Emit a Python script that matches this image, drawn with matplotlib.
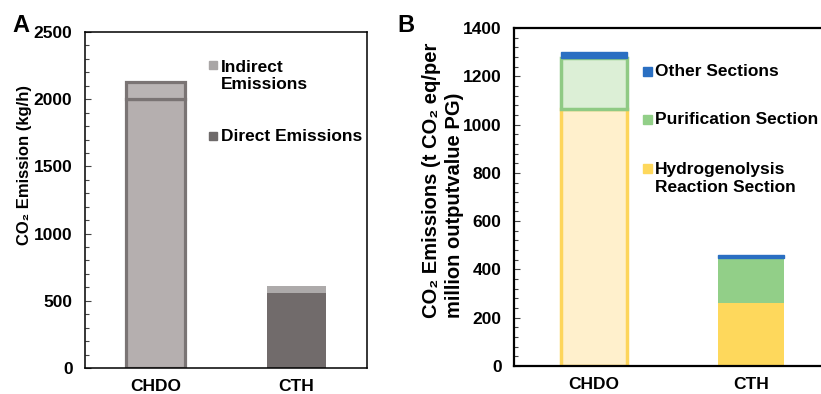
import matplotlib.pyplot as plt
from matplotlib.patches import Rectangle
from matplotlib.ticker import MultipleLocator

plt.rcParams["font.family"] = ["Liberation Sans", "DejaVu Sans"]
plt.rcParams["font.weight"] = "bold"

# ===== データ =====
cats = ["CHDO", "CTH"]
# A: kg/h
a_direct = [2005, 555]
a_indirect = [125, 55]
# B: t CO2 eq / million output value
b_hydro = [1065, 260]
b_purif = [212, 188]
b_other = [23, 12]

# 色（CHDOは淡色＋枠線、CTHはベタ塗り）
a_direct_fill = ["#b5afaf", "#716b6b"]
a_indirect_fill = ["#b9b4b4", "#adaaaa"]
a_edge = ["#7a7474", "none"]
hydro_fill = ["#fff0cc", "#fed85c"]
hydro_edge = ["#fdd55a", "none"]
purif_fill = ["#dcefd6", "#92cf88"]
purif_edge = ["#8fca84", "none"]
other_fill = ["#2a6fc2", "#2a6fc2"]

fig = plt.figure(figsize=(8.21, 3.94), dpi=100)
axA = fig.add_axes([85 / 821, 26 / 394, 282 / 821, 336 / 394])
axB = fig.add_axes([514 / 821, 28 / 394, 314 / 821, 338 / 394])

x = range(len(cats))

# ----- A -----
axA.bar(x, a_direct, width=0.425, color=a_direct_fill,
        edgecolor=a_edge, linewidth=2.3, zorder=2)
axA.bar(x, a_indirect, width=0.425, bottom=a_direct, color=a_indirect_fill,
        edgecolor=a_edge, linewidth=2.3, zorder=2)
axA.set_xlim(-0.5, 1.5)
axA.set_ylim(0, 2500)
axA.yaxis.set_major_locator(MultipleLocator(500))
axA.yaxis.set_minor_locator(MultipleLocator(100))
for s in axA.spines.values():
    s.set_linewidth(1.1)

# 凡例（手書き）
legA = [("Indirect\nEmissions", "#a9a6a6", 0.869, 0.902),
        ("Direct Emissions", "#6e6a6a", 0.690, 0.690)]
for lab, col, ty, sy in legA:
    axA.add_patch(Rectangle((0.438, sy - 0.012), 0.029, 0.024, color=col,
                            transform=axA.transAxes, clip_on=False))
    axA.text(0.482, ty, lab, transform=axA.transAxes, fontsize=12.5,
             fontweight="bold", va="center", ha="left", linespacing=1.2)

# ----- B -----
axB.bar(x, b_hydro, width=0.42, color=hydro_fill,
        edgecolor=hydro_edge, linewidth=2.5, zorder=2)
axB.bar(x, b_purif, width=0.42, bottom=b_hydro, color=purif_fill,
        edgecolor=purif_edge, linewidth=2.5, zorder=2)
bot = [h + p for h, p in zip(b_hydro, b_purif)]
axB.bar(x, b_other, width=0.42, bottom=bot, color=other_fill,
        edgecolor=other_fill, linewidth=1.0, zorder=3)
axB.set_xlim(-0.51, 1.49)
axB.set_ylim(0, 1400)
axB.yaxis.set_major_locator(MultipleLocator(200))
axB.yaxis.set_minor_locator(MultipleLocator(40))
for s in axB.spines.values():
    s.set_linewidth(1.6)

legB = [("Other Sections", "#2a6fc2", 0.870, 0.870),
        ("Purification Section", "#92cf88", 0.728, 0.728),
        ("Hydrogenolysis\nReaction Section", "#fed85c", 0.555, 0.583)]
for lab, col, ty, sy in legB:
    axB.add_patch(Rectangle((0.411, sy - 0.013), 0.029, 0.027, color=col,
                            transform=axB.transAxes, clip_on=False))
    axB.text(0.449, ty, lab, transform=axB.transAxes, fontsize=12.5,
             fontweight="bold", va="center", ha="left", linespacing=1.2)

for ax, pad in ((axA, 9), (axB, 9)):
    ax.set_xticks(list(x))
    ax.set_xticklabels(cats, fontsize=12.5, fontweight="bold")
    ax.tick_params(axis="x", length=0, pad=8)
    ax.tick_params(axis="y", which="major", direction="in", length=4,
                   width=0.8, color="#444444", labelsize=12.5, pad=pad)
    ax.tick_params(axis="y", which="minor", direction="in", length=3,
                   width=0.8, color="#444444")
    for lab in ax.get_yticklabels():
        lab.set_fontweight("bold")

# 軸ラベル
fig.text(25 / 821, 1 - 165 / 394, "CO₂ Emission (kg/h)", rotation=90,
         ha="center", va="center", fontsize=12, fontweight="bold")
fig.text(443 / 821, 1 - 180 / 394,
         "CO₂ Emissions (t CO₂ eq/per\nmillion outputvalue PG)",
         rotation=90, ha="center", va="center", multialignment="left",
         fontsize=14.5, fontweight="bold", linespacing=1.25)

# パネル記号
fig.text(21 / 821, 1 - 26 / 394, "A", fontsize=17, fontweight="bold",
         ha="center", va="center")
fig.text(406 / 821, 1 - 26 / 394, "B", fontsize=17, fontweight="bold",
         ha="center", va="center")

fig.savefig("out.png", dpi=100)
